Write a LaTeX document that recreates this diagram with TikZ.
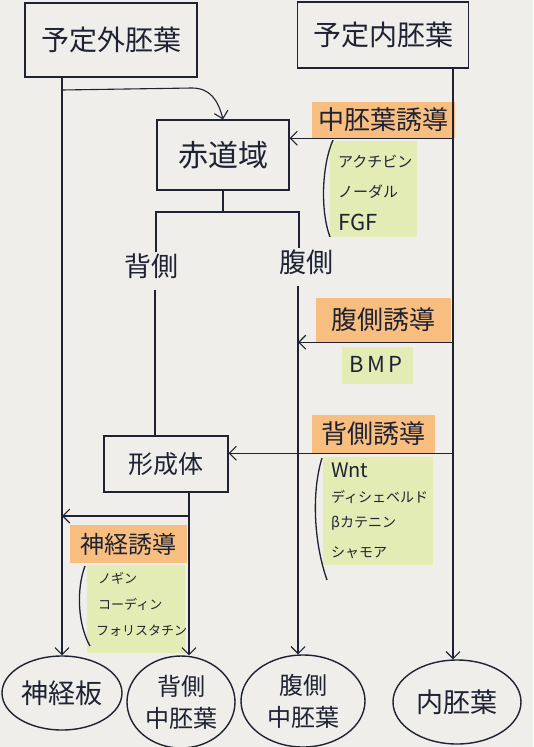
\documentclass[tikz,border=0pt]{standalone}
\usepackage{fontspec}
\setmainfont{Noto Sans CJK JP}
\usetikzlibrary{arrows.meta,shapes.geometric}
\definecolor{ink}{HTML}{1E2233}
\definecolor{paper}{HTML}{EFEEEA}
\definecolor{hlorange}{HTML}{F8BE80}
\definecolor{hlgreen}{HTML}{E4ECB6}
\tikzset{
  box/.style={draw=ink, line width=1.1pt, text=ink, inner sep=0pt, font=\fontsize{28}{32}\selectfont},
  blob/.style={ellipse, draw=ink, line width=1.4pt, text=ink, inner sep=0pt, align=center, font=\fontsize{24}{32}\selectfont},
  plain/.style={text=ink, inner sep=1pt, font=\fontsize{27}{30}\selectfont},
  ora/.style={fill=hlorange, text=ink, inner sep=0pt, font=\fontsize{26}{28}\selectfont},
  greenbg/.style={fill=hlgreen, draw=none},
  sig/.style={text=ink, anchor=west, inner sep=0pt},
  conn/.style={draw=ink, line width=1.1pt},
  arr/.style={conn, -{Straight Barb[length=7pt,width=14pt,line width=1.1pt]}},
  paren/.style={draw=ink, line width=1.3pt}
}
\begin{document}
\begin{tikzpicture}[x=1pt,y=-1pt]
\fill[paper] (0,0) rectangle (533,747);
\useasboundingbox (0,0) rectangle (533,747);

% helper x positions
\coordinate (rx) at (453,0);
\coordinate (vx) at (298,0);
\coordinate (lx) at (155,0);
\coordinate (kx) at (189,0);
\coordinate (bl) at (156,212);
\coordinate (br) at (299,212);

% boxes
\node[box, minimum width=172pt, minimum height=74pt] (gai) at (111,40) {予定外胚葉};
\node[box, minimum width=171pt, minimum height=66pt] (nai) at (383,35) {予定内胚葉};
\node[box, minimum width=132pt, minimum height=70pt, font=\fontsize{30}{34}\selectfont] (sek) at (223,155) {赤道域};
\node[box, minimum width=124pt, minimum height=56pt, font=\fontsize{25}{28}\selectfont] (kei) at (166,464) {形成体};
\node[plain] (dor) at (151,266) {背側};
\node[plain] (ven) at (306,262) {腹側};

% bottom ellipses
\node[blob, minimum width=120pt, minimum height=74pt, font=\fontsize{27}{30}\selectfont] (shinkei) at (62,693) {神経板};
\node[blob, minimum width=108pt, minimum height=92pt] (dmes) at (181,702) {背側\\中胚葉};
\node[blob, minimum width=124pt, minimum height=92pt] (vmes) at (303,701) {腹側\\中胚葉};
\node[blob, minimum width=128pt, minimum height=84pt, font=\fontsize{27}{30}\selectfont] (endo) at (457,702) {内胚葉};

% highlights
\node[ora, minimum width=143pt, minimum height=36pt] (ind1) at (383,120) {中胚葉誘導};
\node[ora, minimum width=135pt, minimum height=44pt] (ind2) at (383,320) {腹側誘導};
\node[ora, minimum width=123pt, minimum height=38pt] (ind3) at (373,434) {背側誘導};
\node[ora, minimum width=117pt, minimum height=38pt, font=\fontsize{24}{26}\selectfont] (ind4) at (128,544) {神経誘導};

\fill[greenbg] (330,141) rectangle (417,237);
\fill[greenbg] (342,347) rectangle (413,384);
\fill[greenbg] (323,457) rectangle (433,565);
\fill[greenbg] (87,565) rectangle (185,653);

% signal molecules
\begin{scope}[every node/.style={sig, font=\fontsize{15}{18}\selectfont}]
\node (act) at (338,162) {アクチビン};
\node (nod) at (338,192) {ノーダル};
\node[font=\fontsize{22}{24}\selectfont] (fgf) at (338,222) {FGF};
\end{scope}
\node[text=ink, inner sep=0pt, font=\fontsize{22}{24}\selectfont] (bmp) at (376,364) {B\,M\,P};
\begin{scope}[every node/.style={sig, font=\fontsize{14}{17}\selectfont}]
\node[font=\fontsize{20}{22}\selectfont] (wnt) at (331,470) {Wnt};
\node (dsh) at (331,497) {ディシェベルド};
\node (bcat) at (331,523) {βカテニン};
\node (sia) at (331,553) {シャモア};
\end{scope}
\begin{scope}[every node/.style={sig, font=\fontsize{13}{16}\selectfont}]
\node (nog) at (98,578) {ノギン};
\node (chd) at (98,604) {コーディン};
\node (fst) at (96,631) {フォリスタチン};
\end{scope}

% brackets
\draw[paren] (333,140) .. controls (322,165) and (320,210) .. (330,237);
\draw[paren] (322,458) .. controls (312,490) and (313,540) .. (327,580);
\draw[paren] (85,566) .. controls (76,590) and (78,625) .. (90,646);

% main lines
\draw[arr] (gai.south -| shinkei.north) -- (shinkei.north);
\draw[arr] (nai.south -| rx) -- (endo.north -| rx);
\coordinate (c1) at (62,90);
\draw[arr] (c1) -- (192,88) .. controls (210,88) and (218,100) .. (sek.north);

% equatorial split
\draw[conn] (sek.south) -- (sek.south |- bl);
\draw[conn] (dor.north -| bl) -- (bl) -- (br) -- (ven.north -| br);

% dorsal / ventral lines
\draw[conn, shorten <=10pt] (dor.south -| lx) -- (kei.north -| lx);
\draw[arr, shorten <=10pt] (ven.south -| vx) -- (vmes.north -| vx);

% inductions
\draw[arr] (ind1.south -| rx) -- (sek.east |- ind1.south);
\draw[arr] (ind2.south -| rx) -- (ind2.south -| vx);
\draw[arr] (ind3.south -| rx) -- (kei.east |- ind3.south);

% organizer outputs
\draw[arr] (kei.south -| kx) -- (dmes.north -| kx);
\coordinate (n1) at (189,516);
\draw[arr] (n1) -- (n1 -| shinkei.north);
\end{tikzpicture}
\end{document}
